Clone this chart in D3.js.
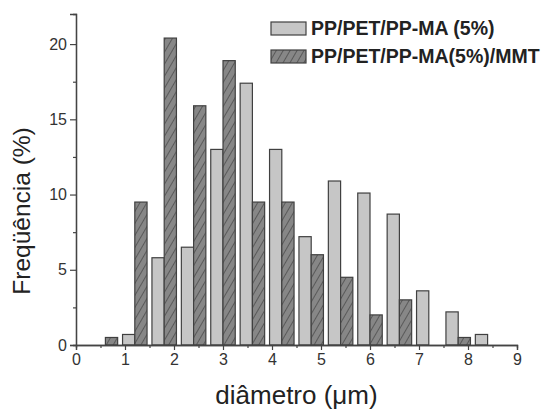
<!DOCTYPE html>
<html>
<head>
<meta charset="utf-8">
<script src="https://cdn.jsdelivr.net/npm/d3@7"></script>
<style>
  html, body { margin: 0; padding: 0; background: #fff; }
  svg { display: block; font-family: "Liberation Sans", Arial, sans-serif; }
</style>
</head>
<body>
<svg id="chart" width="544" height="412"></svg>
<script>
// Diameter classes (µm) and frequency (%) for each blend
const diameters = [0.6, 1.2, 1.8, 2.4, 3.0, 3.6, 4.2, 4.8, 5.4, 6.0, 6.6, 7.2, 7.8, 8.4];
const freqPlain = [0, 0.7, 5.8, 6.5, 13.0, 17.4, 13.0, 7.2, 10.9, 10.1, 8.7, 3.6, 2.2, 0.7];
const freqMMT   = [0.5, 9.5, 20.4, 15.9, 18.9, 9.5, 9.5, 6.0, 4.5, 2.0, 3.0, 0, 0.5, 0];
const seriesNames = ["PP/PET/PP-MA (5%)", "PP/PET/PP-MA(5%)/MMT"];
const xTicks = [0, 1, 2, 3, 4, 5, 6, 7, 8, 9];
const yTicks = [0, 5, 10, 15, 20];

const svg = d3.select("#chart");
const x = d3.scaleLinear().domain([0, 9]).range([76, 517]);
const y = d3.scaleLinear().domain([0, 22]).range([345, 14]);
const barW = 0.25; // width of each bar in µm

// hatch pattern for the MMT series
const defs = svg.append("defs");
const pat = defs.append("pattern")
  .attr("id", "hatch")
  .attr("patternUnits", "userSpaceOnUse")
  .attr("width", 6).attr("height", 6)
  .attr("patternTransform", "rotate(30)");
pat.append("rect").attr("width", 6).attr("height", 6).attr("fill", "#878787");
pat.append("line").attr("x1", 0).attr("y1", 0).attr("x2", 0).attr("y2", 6)
  .attr("stroke", "#3a3a3a").attr("stroke-width", 1.2);

const plainData = diameters.map((d, i) => ({ d, v: freqPlain[i] }));
const mmtData = diameters.map((d, i) => ({ d, v: freqMMT[i] }));

svg.append("g").selectAll("rect")
  .data(plainData.filter(p => p.v > 0))
  .join("rect")
  .attr("x", p => x(p.d - barW))
  .attr("width", p => x(p.d) - x(p.d - barW))
  .attr("y", p => y(p.v))
  .attr("height", p => y(0) - y(p.v))
  .attr("fill", "#c6c6c6")
  .attr("stroke", "#404040")
  .attr("stroke-width", 1.2);

svg.append("g").selectAll("rect")
  .data(mmtData.filter(p => p.v > 0))
  .join("rect")
  .attr("x", p => x(p.d))
  .attr("width", p => x(p.d + barW) - x(p.d))
  .attr("y", p => y(p.v))
  .attr("height", p => y(0) - y(p.v))
  .attr("fill", "url(#hatch)")
  .attr("stroke", "#404040")
  .attr("stroke-width", 1.2);

// axes
const xAxis = svg.append("g").attr("transform", `translate(0,${y(0)})`)
  .call(d3.axisBottom(x).tickValues(xTicks).tickFormat(d3.format("d")).tickSizeOuter(0).tickSize(5).tickPadding(4));
const xMinor = svg.append("g").attr("transform", `translate(0,${y(0)})`)
  .call(d3.axisBottom(x).tickValues(d3.range(0.5, 9, 1)).tickFormat("").tickSizeOuter(0).tickSize(3));
const yAxis = svg.append("g").attr("transform", `translate(${x(0)},0)`)
  .call(d3.axisLeft(y).tickValues(yTicks).tickFormat(d3.format("d")).tickSizeOuter(0).tickSize(6).tickPadding(3));
const yMinor = svg.append("g").attr("transform", `translate(${x(0)},0)`)
  .call(d3.axisLeft(y).tickValues(d3.range(2.5, 22, 5)).tickFormat("").tickSizeOuter(0).tickSize(3));

[xAxis, xMinor, yAxis, yMinor].forEach(g => {
  g.select(".domain").attr("stroke", "#444").attr("stroke-width", 1.3);
  g.selectAll(".tick line").attr("stroke", "#444").attr("stroke-width", 1.2);
  g.selectAll("text").attr("font-size", 16).attr("fill", "#333")
    .attr("font-family", "'Liberation Sans', Arial, sans-serif");
});

// axis titles
svg.append("text")
  .attr("x", (x(0) + x(9)) / 2).attr("y", 404)
  .attr("text-anchor", "middle").attr("font-size", 26).attr("fill", "#222")
  .text("diâmetro (μm)");
svg.append("text")
  .attr("transform", `translate(30,${211}) rotate(-90)`)
  .attr("text-anchor", "middle").attr("font-size", 24.5).attr("fill", "#222")
  .text("Freqüência (%)");

// legend
const legend = svg.append("g");
const fills = ["#c6c6c6", "url(#hatch)"];
seriesNames.forEach((name, i) => {
  const yy = 22 + i * 28;
  legend.append("rect")
    .attr("x", 271).attr("y", yy).attr("width", 35).attr("height", 13)
    .attr("fill", fills[i]).attr("stroke", "#404040").attr("stroke-width", 1.2);
  legend.append("text")
    .attr("x", 311).attr("y", yy + 13)
    .attr("font-size", 19.5).attr("font-weight", "bold").attr("fill", "#222")
    .text(name);
});
</script>
</body>
</html>
